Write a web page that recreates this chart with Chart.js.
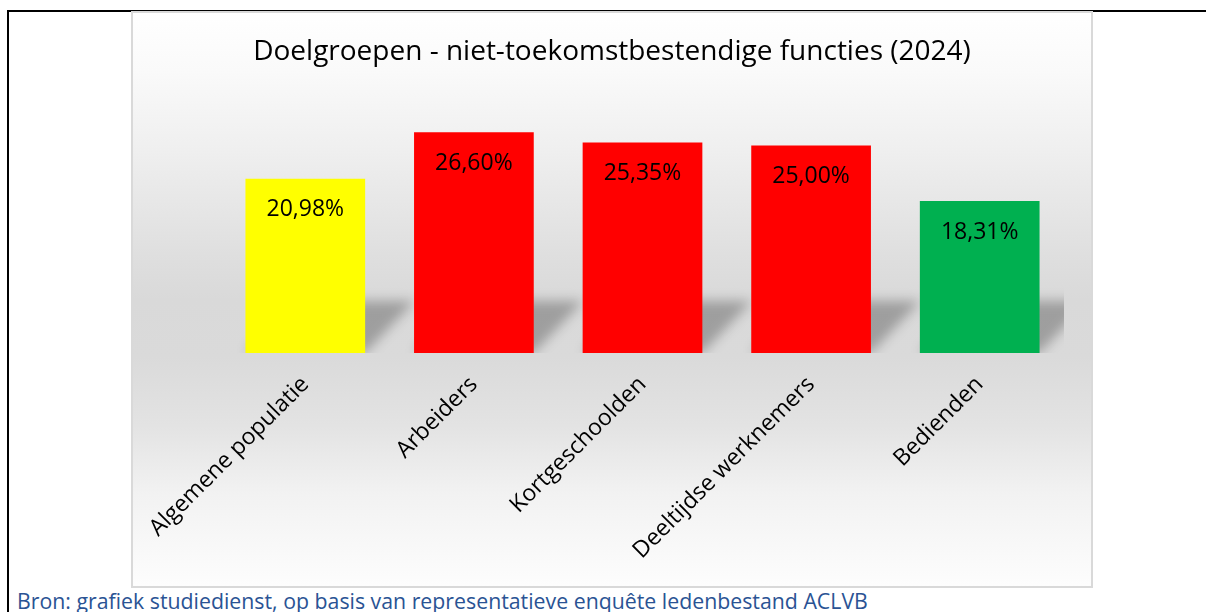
<!DOCTYPE html>
<html>
<head>
<meta charset="utf-8">
<script src="https://cdn.jsdelivr.net/npm/chart.js@4.4.1/dist/chart.umd.min.js"></script>
<style>
  html,body{margin:0;padding:0;background:#fff;width:1206px;height:612px;overflow:hidden;font-family:"Open Sans",sans-serif}
  .frame-top{position:absolute;left:7px;top:10px;width:1199px;height:2px;background:#000}
  .frame-left{position:absolute;left:7px;top:10px;width:2px;height:602px;background:#000}
  .panel{position:absolute;left:131px;top:11px;width:958px;height:573px;border:2px solid #d9d9d9;background:#fff}
  .panel canvas{display:block}
  .bron{position:absolute;left:17px;top:586px;font-size:21.3px;color:#2a5394;white-space:nowrap}
</style>
</head>
<body>
<div class="frame-top"></div>
<div class="frame-left"></div>
<div class="panel"><canvas id="chart" width="958" height="573"></canvas></div>
<div class="bron">Bron: grafiek studiedienst, op basis van representatieve enquête ledenbestand ACLVB</div>
<script>
// ── Data ──
const groepen=['Algemene populatie','Arbeiders','Kortgeschoolden','Deeltijdse werknemers','Bedienden'];
const aandeel=[20.98,26.60,25.35,25.00,18.31];
const kleuren=['#ffff00','#ff0000','#ff0000','#ff0000','#00b050'];
const titel='Doelgroepen - niet-toekomstbestendige functies (2024)';

const fmtPct=v=>v.toFixed(2).replace('.',',')+'%';

// ── Panel background: soft vertical gradient, darkest around the floor ──
const panelBg={
  id:'panelBg',
  beforeDraw(chart){
    const {ctx,width,height}=chart;
    const g=ctx.createLinearGradient(0,0,0,height);
    g.addColorStop(0,'#ffffff');
    g.addColorStop(0.1,'#fafafa');
    g.addColorStop(0.24,'#efefef');
    g.addColorStop(0.42,'#dfdfdf');
    g.addColorStop(0.5,'#d9d9d9');
    g.addColorStop(0.6,'#dadada');
    g.addColorStop(0.72,'#e3e3e3');
    g.addColorStop(0.84,'#f2f2f2');
    g.addColorStop(1,'#fdfdfd');
    ctx.save();
    ctx.fillStyle=g;
    ctx.fillRect(0,0,width,height);
    ctx.restore();
  }
};

// ── Title, centred on the whole panel (not the plot area) ──
const panelTitle={
  id:'panelTitle',
  afterDraw(chart){
    const {ctx,width}=chart;
    ctx.save();
    ctx.font='28px "Open Sans"';
    ctx.fillStyle='#000';
    ctx.textAlign='center';
    ctx.textBaseline='middle';
    ctx.fillText(titel,width/2,39);
    ctx.restore();
  }
};

// ── Perspective shadow behind each bar ──
const barShadow={
  id:'barShadow',
  beforeDatasetsDraw(chart){
    const {ctx,chartArea}=chart;
    const meta=chart.getDatasetMeta(0);
    ctx.save();
    ctx.beginPath();
    ctx.rect(chartArea.left,chartArea.top,chartArea.right-chartArea.left,chartArea.bottom-chartArea.top);
    ctx.clip();
    ctx.filter='blur(6px)';
    ctx.fillStyle='rgba(0,0,0,0.27)';
    meta.data.forEach(bar=>{
      const x0=bar.x-bar.width/2, x1=bar.x+bar.width/2, b=bar.base;
      const h=52;
      ctx.beginPath();
      ctx.moveTo(x0,b);
      ctx.lineTo(x1,b);
      ctx.lineTo(x1+h*0.95,b-h);
      ctx.lineTo(x0+h*0.95,b-h);
      ctx.closePath();
      ctx.fill();
    });
    ctx.restore();
  }
};

// ── Value labels inside the top of each bar ──
const barLabels={
  id:'barLabels',
  afterDatasetsDraw(chart){
    const {ctx}=chart;
    const meta=chart.getDatasetMeta(0);
    ctx.save();
    ctx.font='23px "Open Sans"';
    ctx.fillStyle='#000';
    ctx.textAlign='center';
    ctx.textBaseline='middle';
    meta.data.forEach((bar,i)=>{
      ctx.fillText(fmtPct(aandeel[i]),bar.x,bar.y+31);
    });
    ctx.restore();
  }
};

new Chart(document.getElementById('chart'),{
  type:'bar',
  data:{
    labels:groepen,
    datasets:[{data:aandeel,backgroundColor:kleuren,borderWidth:0,barPercentage:0.71,categoryPercentage:1}]
  },
  options:{
    responsive:false,animation:false,
    layout:{padding:{left:88,right:27,top:91,bottom:0}},
    plugins:{legend:{display:false},tooltip:{enabled:false},title:{display:false}},
    scales:{
      x:{
        grid:{display:false},border:{display:false},
        ticks:{color:'#000',font:{family:'"Open Sans"',size:23},minRotation:45,maxRotation:45,autoSkip:false,padding:10},
        afterFit(scale){scale.height=233}
      },
      y:{display:false,min:0,max:30}
    }
  },
  plugins:[panelBg,barShadow,barLabels,panelTitle]
});
</script>
</body>
</html>
